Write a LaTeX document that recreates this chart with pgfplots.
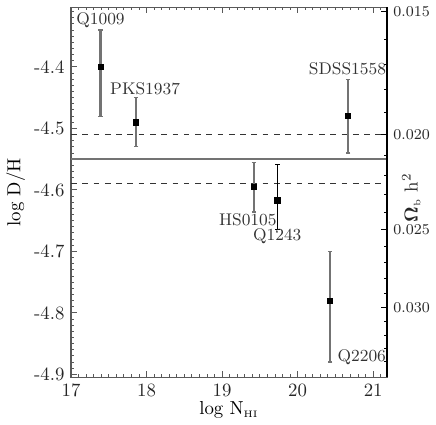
\documentclass[border=0pt]{standalone}
\usepackage{pgfplots}
\usepackage{amsmath}
\pgfplotsset{compat=1.18}
\definecolor{bargray}{gray}{0.45}
\definecolor{framegray}{gray}{0.35}
\begin{document}
\begin{tikzpicture}
\begin{axis}[
  width=168pt, height=197pt, scale only axis,
  xmin=17, xmax=21.18,
  ymin=-4.905, ymax=-4.303,
  xtick={17,18,19,20,21},
  minor xtick={17,17.1,...,21.1},
  ytick={-4.9,-4.8,-4.7,-4.6,-4.5,-4.4},
  yticklabels={-4.9,-4.8,-4.7,-4.6,-4.5,-4.4},
  minor ytick={-4.90,-4.89,...,-4.30},
  xtick pos=both, ytick pos=left,
  tick align=inside,
  major tick length=3.2pt, minor tick length=1.6pt,
  axis line style={framegray, line width=0.8pt},
  tick style={framegray, line width=0.5pt},
  xlabel={log N$_{\text{\tiny HI}}$},
  ylabel={log D/H},
  xlabel style={yshift=4pt},
  ylabel style={yshift=-2pt},
  tick label style={text=black!85},
  clip=false,
]
\addplot[bargray, line width=1.2pt, forget plot] coordinates {(17,-4.55) (21.18,-4.55)};
\addplot[black!80, dashed, line width=0.7pt, forget plot] coordinates {(17,-4.51) (21.18,-4.51)};
\addplot[black!80, dashed, line width=0.7pt, forget plot] coordinates {(17,-4.59) (21.18,-4.59)};

% gray error bars
\addplot[only marks, mark=square*, mark size=1.4pt, mark options={black},
  error bars/.cd, y dir=both, y explicit,
  error bar style={bargray, line width=1.2pt},
  error mark options={rotate=90, bargray, mark size=1.2pt, line width=0.6pt}]
  coordinates {
  (17.39,-4.40) +- (0,0.06) -= (0,0.08)
  (17.86,-4.49) +- (0,0.04) -= (0,0.04)
  (19.42,-4.595) +- (0,0.04) -= (0,0.041)
  (20.43,-4.78) +- (0,0.08) -= (0,0.10)
  (20.67,-4.48) +- (0,0.06) -= (0,0.06)
};
% Q1243 black error bar
\addplot[only marks, mark=square*, mark size=1.4pt, mark options={black},
  error bars/.cd, y dir=both, y explicit,
  error bar style={black, line width=0.7pt},
  error mark options={rotate=90, black, mark size=1.2pt, line width=0.6pt}]
  coordinates {
  (19.73,-4.617) +- (0,0.059) -= (0,0.047)
};

\begin{scope}[every node/.style={text=black!80, font=\small}]
\node at (axis cs:17.39,-4.324) {Q1009};
\node at (axis cs:17.98,-4.435) {PKS1937};
\node at (axis cs:20.66,-4.403) {SDSS1558};
\node at (axis cs:19.34,-4.648) {HS0105};
\node at (axis cs:19.73,-4.676) {Q1243};
\node[anchor=west, inner sep=1pt] at (axis cs:20.50,-4.872) {Q2206};
\end{scope}
\node[rotate=90, text=black!85] at (rel axis cs:1.078,0.485) {$\boldsymbol{\Omega}_{\text{\tiny b}}$ h$^2$};
\end{axis}
\begin{axis}[
  width=168pt, height=197pt, scale only axis,
  xmin=17, xmax=21.18,
  ymin=-4.905, ymax=-4.303,
  axis x line=none,
  axis y line*=right,
  y axis line style={-, black, line width=0.8pt},
  ytick={-4.3097,-4.5097,-4.6647,-4.7914},
  yticklabels={0.015,0.020,0.025,0.030},
  minor ytick={-4.3546,-4.3967,-4.4364,-4.4740,-4.5436,-4.5759,-4.6068,-4.6363,-4.6920,-4.7182,-4.7435,-4.7678,-4.8142,-4.8362,-4.8576,-4.8784},
  tick align=inside,
  major tick length=3.2pt, minor tick length=1.6pt,
  tick style={black, line width=0.5pt},
  yticklabel style={font=\footnotesize, text=black!85},
]
\end{axis}
\end{tikzpicture}
\end{document}
